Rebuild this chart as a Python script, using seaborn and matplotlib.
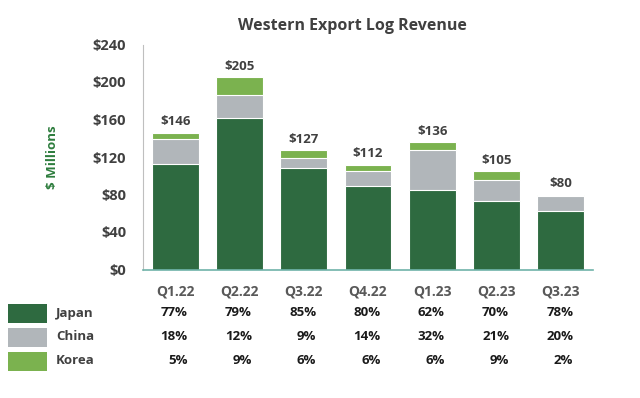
import pandas as pd
import matplotlib.pyplot as plt
import seaborn as sns

# quarterly western export log revenue ($ millions) and market share by country
quarters = ['Q1.22', 'Q2.22', 'Q3.22', 'Q4.22', 'Q1.23', 'Q2.23', 'Q3.23']
totals = [146, 205, 127, 112, 136, 105, 80]
japan_pct = [77, 79, 85, 80, 62, 70, 78]
china_pct = [18, 12, 9, 14, 32, 21, 20]
korea_pct = [5, 9, 6, 6, 6, 9, 2]

colors = {'Japan': '#2e6a40', 'China': '#b1b6ba', 'Korea': '#7bb24f'}

sns.set_style('white')
plt.rcParams['font.family'] = ['Open Sans', 'DejaVu Sans']

df = pd.DataFrame({'quarter': quarters, 'total': totals,
                   'japan': japan_pct, 'china': china_pct, 'korea': korea_pct})
# stacked heights: draw the tallest layer first and cover it
df['japan_val'] = df['total'] * df['japan'] / 100
df['japan_china'] = df['total'] * (df['japan'] + df['china']) / 100

fig = plt.figure(figsize=(6.4, 3.98), dpi=100)
ax = fig.add_axes([143 / 640, 1 - 269.5 / 398, 450 / 640, 225 / 398])

for col, name in [('total', 'Korea'), ('japan_china', 'China'), ('japan_val', 'Japan')]:
    sns.barplot(x='quarter', y=col, data=df, order=quarters, color=colors[name],
                width=0.73, edgecolor='white', linewidth=0.8, saturation=1, ax=ax)

ax.set_ylim(0, 240)
ax.set_xlim(-0.5, 6.5)
ax.set_yticks(range(0, 241, 40))
ax.set_yticklabels([f'${v}' for v in range(0, 241, 40)], fontsize=10.5,
                   fontweight='bold', color='#404040')
ax.set_xticks([i + 0.5 for i in range(-1, 7)])
ax.set_xticklabels([])
ax.tick_params(axis='x', length=4, color='#6fb3a9', width=1, direction='out')
ax.tick_params(axis='y', length=4, color='#bfbfbf', width=1, direction='out', pad=8)
ax.set_xlabel('')
ax.set_ylabel('')
for s in ['top', 'right']:
    ax.spines[s].set_visible(False)
ax.spines['left'].set_color('#bfbfbf')
ax.spines['bottom'].set_color('#6fb3a9')
ax.spines['bottom'].set_linewidth(1.2)

# total labels above bars
for i, t in enumerate(totals):
    ax.annotate(f'${t}', (i, t), xytext=(0, 3), textcoords='offset points',
                ha='center', va='bottom', fontsize=9.5, fontweight='bold', color='#404040')

fig.text(352 / 640, 1 - 26 / 398, 'Western Export Log Revenue', ha='center', va='center',
         fontsize=11.5, fontweight='bold', color='#404040')
fig.text(53 / 640, 1 - 157 / 398, '$ Millions', ha='center', va='center', rotation=90,
         fontsize=9.5, fontweight='bold', color='#2e7d3e')

# share table below the chart
for i, q in enumerate(quarters):
    xc = ax.transData.transform((i, 0))[0] / 640
    fig.text(xc, 1 - 292 / 398, q, ha='center', va='center', fontsize=10,
             fontweight='bold', color='#595959')
    for y, vals in [(313, japan_pct), (337, china_pct), (361, korea_pct)]:
        fig.text(xc + 12.5 / 640, 1 - y / 398, f'{vals[i]}%', ha='right', va='center',
                 fontsize=9.5, fontweight='bold', color='#1a1a1a')

for y, name in [(313, 'Japan'), (337, 'China'), (361, 'Korea')]:
    fig.patches.append(plt.Rectangle((8 / 640, 1 - (y + 9.5) / 398), 39 / 640, 19 / 398,
                                     transform=fig.transFigure, facecolor=colors[name],
                                     edgecolor='none'))
    fig.text(56 / 640, 1 - y / 398, name, ha='left', va='center', fontsize=9.5,
             fontweight='bold', color='#404040')

fig.savefig('out.png', dpi=100)
